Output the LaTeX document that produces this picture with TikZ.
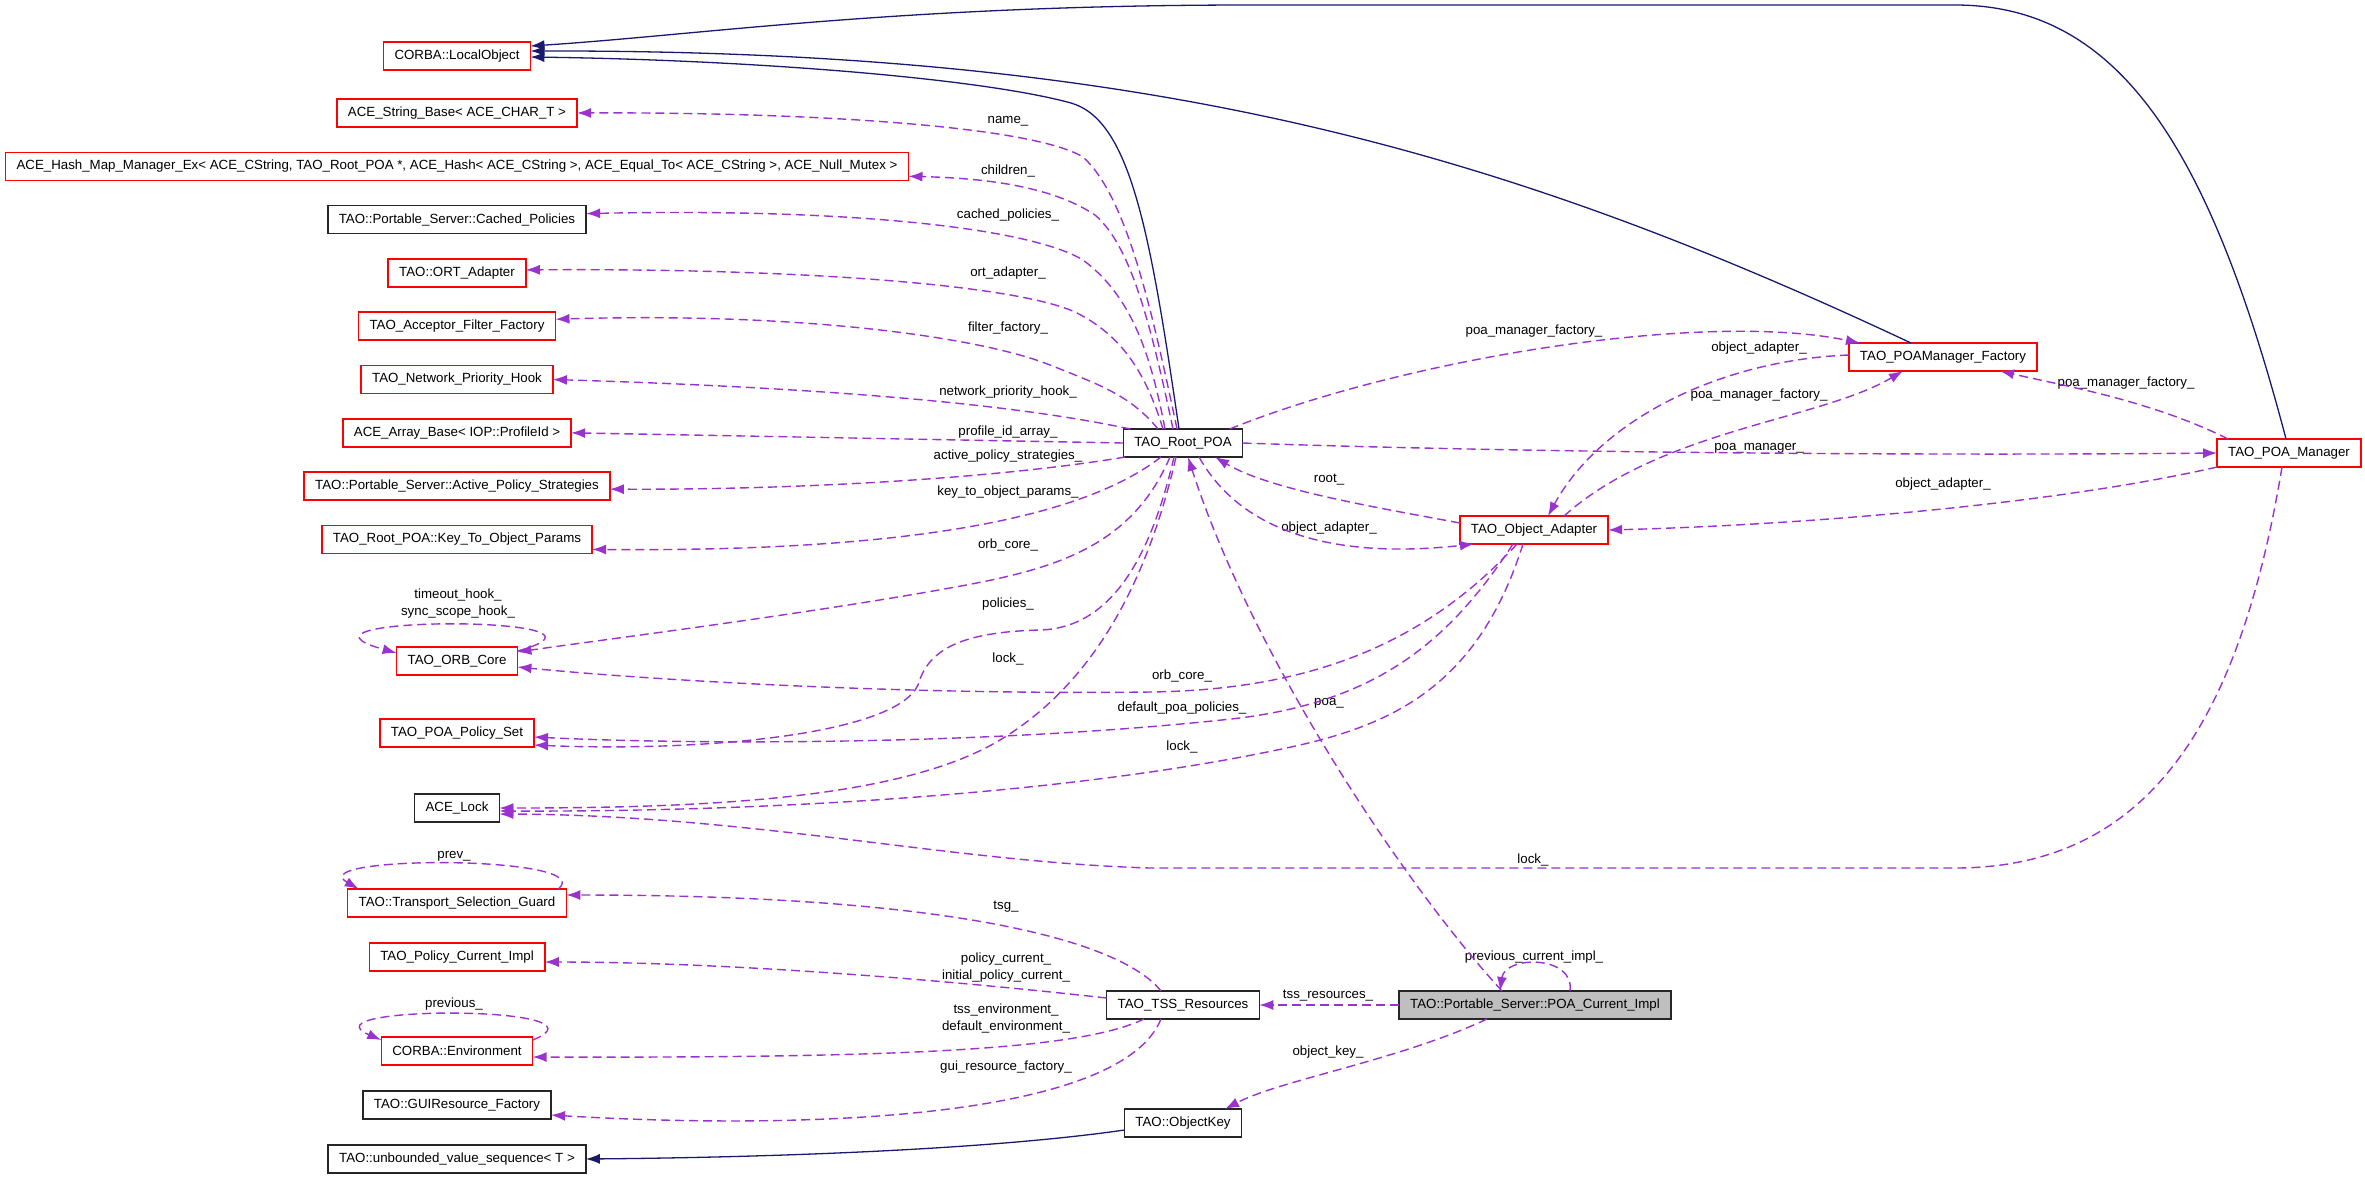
\documentclass[tikz,border=0pt]{standalone}
\usepackage{fontspec}
\setmainfont{Liberation Sans}
\usetikzlibrary{arrows.meta,positioning}
\definecolor{usecol}{HTML}{9A32CD}
\definecolor{inhcol}{HTML}{191970}
\definecolor{curcol}{HTML}{BFBFBF}
\tikzset{cls/.style = {draw=red, fill=white, line width=1.5pt, rectangle, minimum height=28pt, inner xsep=11pt, inner ysep=0pt, outer sep=0pt, font=\fontsize{13.3pt}{16pt}\selectfont},
         plain/.style = {cls, draw=black!85},
         cur/.style = {cls, draw=black!85, fill=curcol},
         lbl/.style = {align=center, inner sep=0pt, font=\fontsize{13.3pt}{17pt}\selectfont},
         uses/.style = {draw=usecol, line width=1.4pt, dash pattern=on 9pt off 5pt, -{Latex[length=14pt,width=10pt]}},
         inh/.style = {draw=inhcol, line width=1.3pt, -{Latex[length=14pt,width=10pt]}},
}
\begin{document}
\begin{tikzpicture}[x=1pt, y=-1pt, node distance=25.3pt]
  \useasboundingbox (0,0) rectangle (2365,1179);

  \node[cls] (corba) at (457,56) {CORBA::LocalObject};
  \node[cls, below = 29pt of corba] (strbase) {ACE\_String\_Base< ACE\_CHAR\_T >};
  \node[cls, below = of strbase] (hashmap) {ACE\_Hash\_Map\_Manager\_Ex< ACE\_CString, TAO\_Root\_POA *, ACE\_Hash< ACE\_CString >, ACE\_Equal\_To< ACE\_CString >, ACE\_Null\_Mutex >};
  \node[plain, below = of hashmap] (cached) {TAO::Portable\_Server::Cached\_Policies};
  \node[cls, below = of cached] (ortad) {TAO::ORT\_Adapter};
  \node[cls, below = of ortad] (filtfac) {TAO\_Acceptor\_Filter\_Factory};
  \node[cls, below = of filtfac] (nethook) {TAO\_Network\_Priority\_Hook};
  \node[cls, below = of nethook] (arrbase) {ACE\_Array\_Base< IOP::ProfileId >};
  \node[cls, below = of arrbase] (actpol) {TAO::Portable\_Server::Active\_Policy\_Strategies};
  \node[cls, below = of actpol] (keyparams) {TAO\_Root\_POA::Key\_To\_Object\_Params};
  \node[cls, below = 93.6pt of keyparams] (orbcore) {TAO\_ORB\_Core};
  \node[cls, below = 44pt of orbcore] (polset) {TAO\_POA\_Policy\_Set};
  \node[plain, below = 47pt of polset] (acelock) {ACE\_Lock};
  \node[cls, below = 67pt of acelock] (tsguard) {TAO::Transport\_Selection\_Guard};
  \node[cls, below = 26pt of tsguard] (polcur) {TAO\_Policy\_Current\_Impl};
  \node[cls, below = 66pt of polcur] (corbaenv) {CORBA::Environment};
  \node[plain, below = 26pt of corbaenv] (guifac) {TAO::GUIResource\_Factory};
  \node[plain, below = 26pt of guifac] (unbseq) {TAO::unbounded\_value\_sequence< T >};

  \node[plain] (rootpoa) at (1183,443) {TAO\_Root\_POA};
  \node[cls] (objadapter) at (1534,530) {TAO\_Object\_Adapter};
  \node[cls] (pmfactory) at (1943,357) {TAO\_POAManager\_Factory};
  \node[cls] (poamgr) at (2289,453) {TAO\_POA\_Manager};
  \node[plain] (tssres) at (1183,1005) {TAO\_TSS\_Resources};
  \node[plain] (objkey) at (1183,1123) {TAO::ObjectKey};
  \node[cur] (curimpl) at (1535,1005) {TAO::Portable\_Server::POA\_Current\_Impl};

  \node[lbl] (lname) at (1008,121) {name\_};
  \node[lbl] (lchildren) at (1008,171) {children\_};
  \node[lbl] (lcached) at (1008,215) {cached\_policies\_};
  \node[lbl] (lort) at (1008,273) {ort\_adapter\_};
  \node[lbl] (lfilter) at (1008,328) {filter\_factory\_};
  \node[lbl] (lnethook) at (1008,392) {network\_priority\_hook\_};
  \node[lbl] (lprofile) at (1008,432) {profile\_id\_array\_};
  \node[lbl] (lactive) at (1008,456) {active\_policy\_strategies\_};
  \node[lbl] (lkeyparams) at (1008,492) {key\_to\_object\_params\_};
  \node[lbl] (lorb) at (1008,545) {orb\_core\_};
  \node[lbl] (lpolicies) at (1008,604) {policies\_};
  \node[lbl] (llock) at (1008,659) {lock\_};
  \node[lbl] (lhooks) at (458,604) {timeout\_hook\_\\sync\_scope\_hook\_};
  \node[lbl] (lprev) at (454,856) {prev\_};
  \node[lbl] (lprevious) at (454,1004) {previous\_};
  \node[lbl] (ltsg) at (1006,907) {tsg\_};
  \node[lbl] (lpolcur) at (1006,968) {policy\_current\_\\initial\_policy\_current\_};
  \node[lbl] (lenv) at (1006,1018) {tss\_environment\_\\default\_environment\_};
  \node[lbl] (lgui) at (1006,1067) {gui\_resource\_factory\_};
  \node[lbl] (lroot) at (1329,480) {root\_};
  \node[lbl] (loa) at (1329,528) {object\_adapter\_};
  \node[lbl] (loaorb) at (1182,676) {orb\_core\_};
  \node[lbl] (ldefpol) at (1182,708) {default\_poa\_policies\_};
  \node[lbl] (lpoa) at (1329,703) {poa\_};
  \node[lbl] (loalock) at (1182,747) {lock\_};
  \node[lbl] (lrootpmf) at (1534,331) {poa\_manager\_factory\_};
  \node[lbl] (lpmfoa) at (1759,348) {object\_adapter\_};
  \node[lbl] (loapmf) at (1759,395) {poa\_manager\_factory\_};
  \node[lbl] (lpoamgr) at (1759,448) {poa\_manager\_};
  \node[lbl] (lpmpmf) at (2126,383) {poa\_manager\_factory\_};
  \node[lbl] (lpmoa) at (1943,484) {object\_adapter\_};
  \node[lbl] (lpmlock) at (1533,860) {lock\_};
  \node[lbl] (ltss) at (1328,996) {tss\_resources\_};
  \node[lbl] (lobjkey) at (1328,1052) {object\_key\_};
  \node[lbl] (lprevcur) at (1534,957) {previous\_current\_impl\_};

  \draw[inh] ([xshift=-4pt]rootpoa.north) .. controls (1150,230) and (1130,120) .. (1071,103) .. controls (980,78) and (750,60) .. ([yshift=-1pt]corba.east);
  \draw[inh] ([xshift=-32pt]pmfactory.north) .. controls (1500,150) and (1150,50) .. ([yshift=5pt]corba.east);
  \draw[inh] ([xshift=-3pt]poamgr.north) .. controls (2210,150) and (2120,5) .. (1955,5) -- (1250,5) .. controls (900,5) and (700,35) .. ([yshift=10pt]corba.east);
  \draw[inh] ([yshift=-7pt]objkey.west) .. controls (1000,1148) and (800,1157) .. (unbseq.east);

  \draw[uses] ([xshift=-6pt]rootpoa.north) .. controls (1150,300) and (1125,195) .. (1083,157) .. controls (1030,125) and (800,112) .. (strbase.east);
  \draw[uses] ([xshift=-10pt]rootpoa.north) .. controls (1150,320) and (1130,245) .. (1095,215) .. controls (1050,185) and (980,178) .. ([yshift=-10pt]hashmap.east);
  \draw[uses] ([xshift=-18pt]rootpoa.north) .. controls (1150,350) and (1130,295) .. (1083,260) .. controls (1030,228) and (850,208) .. ([yshift=6pt]cached.east);
  \draw[uses] ([xshift=-20pt]rootpoa.north) .. controls (1145,370) and (1120,335) .. (1077,313) .. controls (1020,285) and (800,268) .. ([yshift=3pt]ortad.east);
  \draw[uses] ([xshift=-25pt]rootpoa.north) .. controls (1130,395) and (1100,385) .. (1050,365) .. controls (980,337) and (800,312) .. ([yshift=7pt]filtfac.east);
  \draw[uses] ([xshift=7pt]rootpoa.north west) .. controls (1050,412) and (900,390) .. (nethook.east);
  \draw[uses] (rootpoa.west) -- (arrbase.east);
  \draw[uses] ([xshift=2pt]rootpoa.south west) .. controls (1000,478) and (800,490) .. ([yshift=-3pt]actpol.east);
  \draw[uses] ([xshift=-22pt]rootpoa.south) .. controls (1080,520) and (900,552) .. ([yshift=-10pt]keyparams.east);
  \draw[uses] ([xshift=-13pt]rootpoa.south) .. controls (1130,550) and (1050,570) .. (950,588) .. controls (800,615) and (600,640) .. ([yshift=9pt]orbcore.east);
  \draw[uses] ([xshift=-9pt]rootpoa.south) .. controls (1150,560) and (1110,628) .. (1040,630) .. controls (960,632) and (928,650) .. (918,685) .. controls (895,735) and (700,752) .. ([yshift=-12pt]polset.east);
  \draw[uses] ([xshift=-7pt]rootpoa.south) .. controls (1150,570) and (1100,680) .. (1000,740) .. controls (900,800) and (700,808) .. (acelock.east);
  \draw[uses] ([xshift=-13pt]rootpoa.north east) .. controls (1400,360) and (1700,310) .. ([xshift=11pt]pmfactory.north west);
  \draw[uses] (rootpoa.east) .. controls (1500,452) and (1900,456) .. (poamgr.west);
  \draw[uses] ([xshift=16pt]rootpoa.south) .. controls (1240,530) and (1330,560) .. ([xshift=14pt]objadapter.south west);

  \draw[uses] ([yshift=7pt]objadapter.west) .. controls (1380,508) and (1270,490) .. ([xshift=32pt]rootpoa.south);
  \draw[uses] ([xshift=-17pt]objadapter.south) .. controls (1420,650) and (1300,690) .. (1150,692) .. controls (900,695) and (650,680) .. ([yshift=-6pt]orbcore.east);
  \draw[uses] ([xshift=-21pt]objadapter.south) .. controls (1450,640) and (1380,700) .. (1240,718) .. controls (1000,745) and (700,745) .. ([yshift=-4pt]polset.east);
  \draw[uses] ([xshift=-11pt]objadapter.south) .. controls (1480,680) and (1400,722) .. (1300,745) .. controls (1100,790) and (800,812) .. ([yshift=-3pt]acelock.east);
  \draw[uses] ([xshift=30pt]objadapter.north) .. controls (1660,430) and (1820,420) .. ([xshift=-40pt]pmfactory.south);
  \draw[uses] ([yshift=2pt]pmfactory.west) .. controls (1720,360) and (1600,420) .. ([xshift=14pt]objadapter.north);
  \draw[uses] ([xshift=11pt]poamgr.north west) .. controls (2150,400) and (2060,385) .. ([xshift=57pt]pmfactory.south);
  \draw[uses] (poamgr.south west) .. controls (2050,505) and (1800,525) .. (objadapter.east);
  \draw[uses] ([xshift=-7pt]poamgr.south) .. controls (2240,720) and (2150,868) .. (1955,868) -- (1150,868) .. controls (950,862) and (750,815) .. ([yshift=-6pt]acelock.east);

  \draw[uses] ([yshift=10pt]orbcore.east) .. controls (650,615) and (260,615) .. ([yshift=8pt]orbcore.west);
  \draw[uses] ([xshift=-8pt]tsguard.north east) .. controls (600,855) and (300,855) .. ([xshift=11pt]tsguard.north west);
  \draw[uses] ([yshift=11pt]corbaenv.east) .. controls (620,1005) and (300,1005) .. ([yshift=11pt]corbaenv.west);

  \draw[uses] ([xshift=-22pt]tssres.north) .. controls (1120,940) and (950,895) .. ([yshift=8pt]tsguard.east);
  \draw[uses] ([yshift=7pt]tssres.west) .. controls (900,975) and (700,962) .. ([yshift=-5pt]polcur.east);
  \draw[uses] ([xshift=-39pt]tssres.south) .. controls (1080,1050) and (900,1058) .. ([yshift=-6pt]corbaenv.east);
  \draw[uses] ([xshift=-22pt]tssres.south) .. controls (1120,1120) and (800,1130) .. ([yshift=-10pt]guifac.east);

  \draw[uses] (curimpl.west) -- (tssres.east);
  \draw[uses] ([xshift=-48pt]curimpl.south) .. controls (1400,1060) and (1280,1080) .. ([xshift=42pt]objkey.north);
  \draw[uses] ([xshift=-33pt]curimpl.north) .. controls (1400,880) and (1250,650) .. ([xshift=5pt]rootpoa.south);
  \draw[uses] ([xshift=35pt]curimpl.north) .. controls (1575,955) and (1505,955) .. ([xshift=-35pt]curimpl.north);

\end{tikzpicture}
\end{document}
